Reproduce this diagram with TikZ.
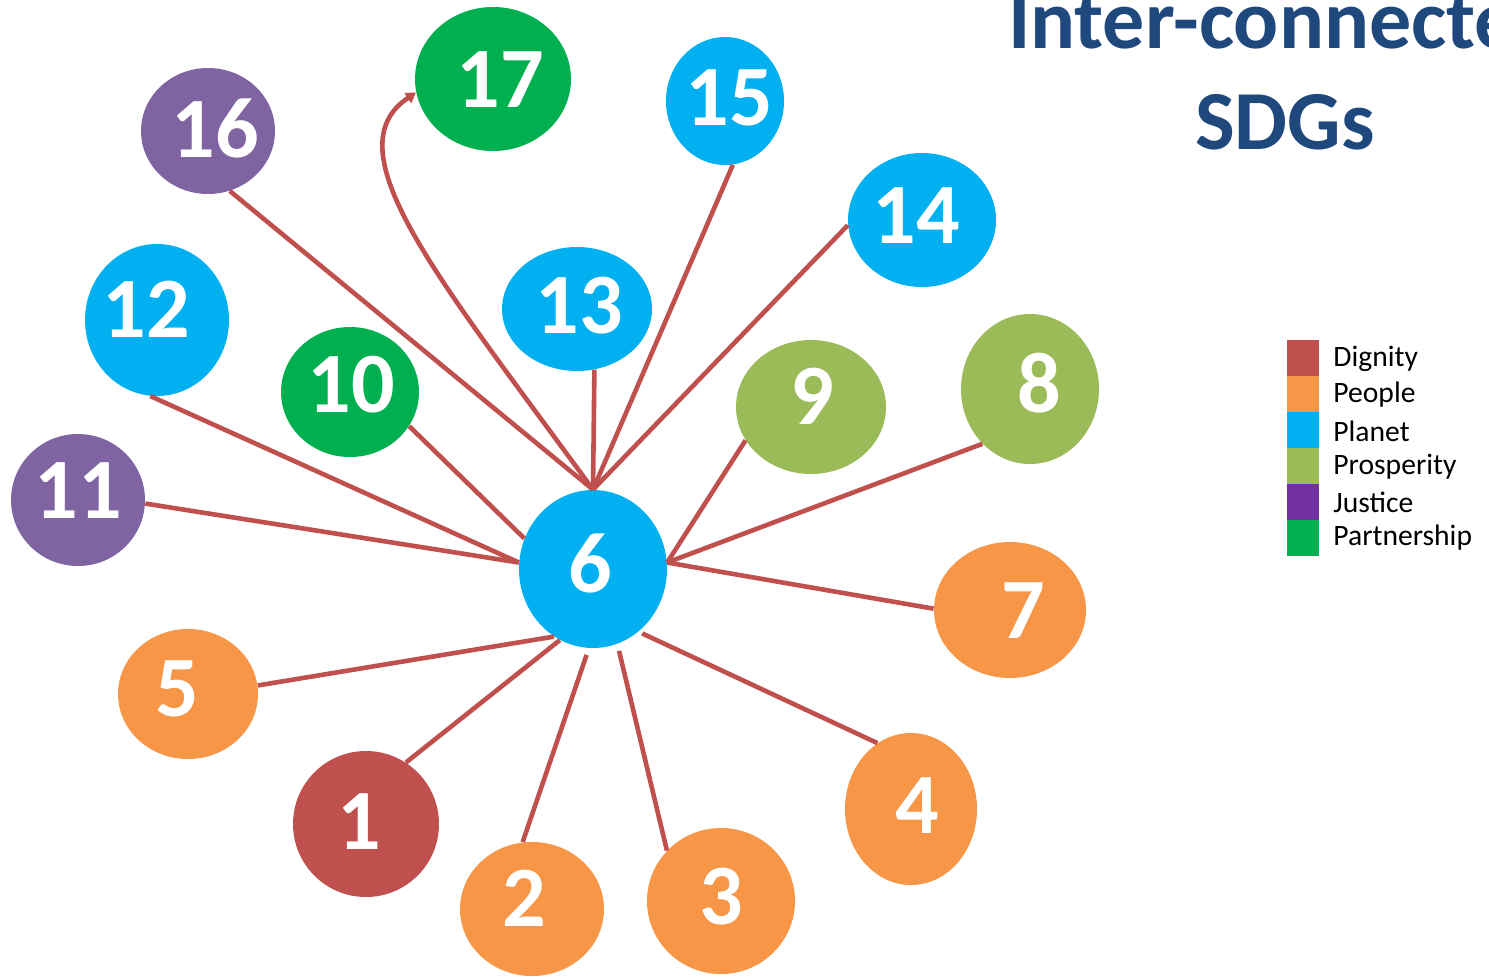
\documentclass[tikz,border=0pt]{standalone}
\usepackage{fontspec}
\setmainfont{Carlito}
\usetikzlibrary{shapes.geometric,arrows.meta}
\definecolor{dignity}{HTML}{C0504D}
\definecolor{people}{HTML}{F79646}
\definecolor{planet}{HTML}{00B0F0}
\definecolor{prosper}{HTML}{9BBB59}
\definecolor{justice}{HTML}{7030A0}
\definecolor{justicel}{HTML}{8064A2}
\definecolor{partner}{HTML}{00B050}
\definecolor{titleblue}{HTML}{1F497D}
\begin{document}
\begin{tikzpicture}[x=0.5pt,y=-0.5pt,
  blob/.style={ellipse, inner sep=0pt, draw=none},
  num/.style={text=white, font=\fontsize{43}{48}\selectfont\bfseries, inner sep=0pt},
  conn/.style={draw=dignity, line width=2.3pt},
  legsq/.style={rectangle, inner sep=0pt, minimum width=16pt, minimum height=18pt, draw=none},
  legtxt/.style={anchor=west, inner sep=0pt, font=\fontsize{14.8}{16}\selectfont},
  ttl/.style={anchor=base, inner sep=0pt, text=titleblue, font=\fontsize{42}{48}\selectfont\bfseries}]
\clip (0,0) rectangle (1489,976);
\fill[white] (0,0) rectangle (1489,976);
% ellipses
\node[blob, fill=partner, minimum width=78pt, minimum height=72pt] (n17) at (493,79) {};
\node[blob, fill=justicel, minimum width=67pt, minimum height=63pt] (n16) at (208,131) {};
\node[blob, fill=planet, minimum width=59pt, minimum height=64pt] (n15) at (725,101) {};
\node[blob, fill=planet, minimum width=74pt, minimum height=67pt] (n14) at (922,220) {};
\node[blob, fill=planet, minimum width=75pt, minimum height=62pt] (n13) at (577,309) {};
\node[blob, fill=planet, minimum width=72pt, minimum height=76pt] (n12) at (157,320) {};
\node[blob, fill=partner, minimum width=69pt, minimum height=65pt] (n10) at (350,392) {};
\node[blob, fill=prosper, minimum width=75pt, minimum height=67pt] (n9) at (811,407) {};
\node[blob, fill=prosper, minimum width=69pt, minimum height=75pt] (n8) at (1030,389) {};
\node[blob, fill=justicel, minimum width=67pt, minimum height=66pt] (n11) at (78,500) {};
\node[blob, fill=planet, minimum width=74pt, minimum height=79pt] (n6) at (593,569) {};
\node[blob, fill=people, minimum width=76pt, minimum height=68pt] (n7) at (1010,610) {};
\node[blob, fill=people, minimum width=70pt, minimum height=65pt] (n5) at (188,694) {};
\node[blob, fill=dignity, minimum width=73pt, minimum height=73pt] (n1) at (366,824) {};
\node[blob, fill=people, minimum width=72pt, minimum height=67pt] (n2) at (532,909) {};
\node[blob, fill=people, minimum width=74pt, minimum height=73pt] (n3) at (721,901) {};
\node[blob, fill=people, minimum width=66pt, minimum height=76pt] (n4) at (911,809) {};
% connectors
\draw[conn] (n16.290) -- (n6.north);
\draw[conn] (n15.277) -- (n6.north);
\draw[conn] (n14.184) -- (n6.north);
\draw[conn] (n13.286) -- (n6.north);
\draw[conn, -{Triangle[length=5pt,width=6pt]}] (n6.north) .. controls (440,280) and (330,150) .. (n17.190);
\draw[conn] (n12.265) -- (n6.175);
\draw[conn] (n11.357) -- (n6.175);
\draw[conn] (n10.330) -- (n6.156);
\draw[conn] (n9.207) -- (n6.5);
\draw[conn] (n8.229) -- (n6.5);
\draw[conn] (n7.179) -- (n6.5);
\draw[conn] (n5.7) -- (n6.240);
\draw[conn] (n1.57) -- (n6.245);
\draw[conn, shorten >=3.5pt] (n2.98) -- (n6.267);
\draw[conn, shorten >=3.5pt] (n3.137) -- (n6.288);
\draw[conn, shorten >=2pt] (n4.117) -- (n6.306);
% numbers
\node[num] (t17) at (500,80) {17};
\node[num] (t16) at (215,128) {16};
\node[num] (t15) at (729,98) {15};
\node[num] (t14) at (916,216) {14};
\node[num] (t13) at (579,306) {13};
\node[num] (t12) at (146,309) {12};
\node[num] (t10) at (351,385) {10};
\node[num] (t9) at (812,396) {9};
\node[num] (t8) at (1039,383) {8};
\node[num] (t11) at (78,491) {11};
\node[num] (t6) at (590,563) {6};
\node[num] (t7) at (1023,611) {7};
\node[num] (t5) at (177,689) {5};
\node[num] (t1) at (359,822) {1};
\node[num] (t2) at (524,898) {2};
\node[num] (t3) at (721,897) {3};
\node[num] (t4) at (917,806) {4};
% title
\node[ttl] (title1) at (1285,48) {Inter-connected};
\node[ttl] (title2) at (1285,149) {SDGs};
% legend
\node[legsq, fill=dignity] (l1) at (1303,358) {};
\node[legsq, fill=people] (l2) at (1303,394) {};
\node[legsq, fill=planet] (l3) at (1303,430) {};
\node[legsq, fill=prosper] (l4) at (1303,466) {};
\node[legsq, fill=justice] (l5) at (1303,502) {};
\node[legsq, fill=partner] (l6) at (1303,538) {};
\node[legtxt] (g1) at (1333,359) {Dignity};
\node[legtxt] (g2) at (1333,395) {People};
\node[legtxt] (g3) at (1333,431) {Planet};
\node[legtxt] (g4) at (1333,467) {Prosperity};
\node[legtxt] (g5) at (1333,502) {Justice};
\node[legtxt] (g6) at (1333,538) {Partnership};
\end{tikzpicture}
\end{document}
